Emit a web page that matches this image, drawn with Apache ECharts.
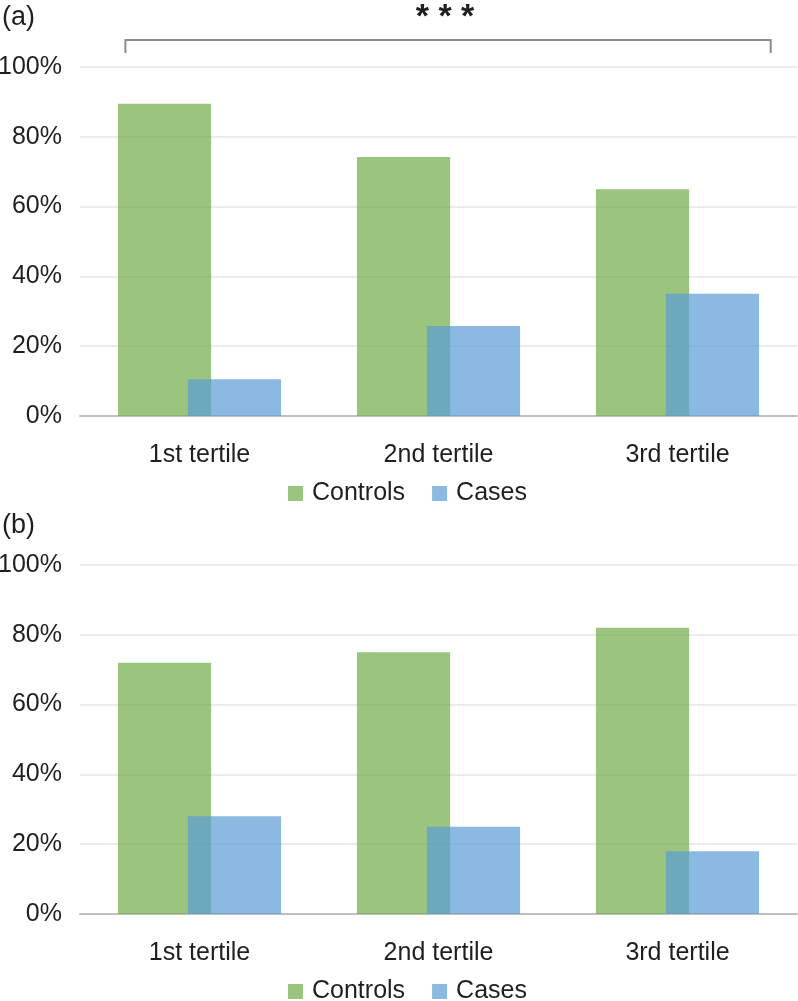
<!DOCTYPE html>
<html>
<head>
<meta charset="utf-8">
<script src="https://cdn.jsdelivr.net/npm/echarts@6/dist/echarts.min.js"></script>
<style>
html,body{margin:0;padding:0;background:#fff;}
#c{width:798px;height:1001px;}
</style>
</head>
<body>
<div id="c"></div>
<script>
const categories = ['1st tertile', '2nd tertile', '3rd tertile'];
const controlsA = [89.5, 74.2, 65.0];
const casesA = [10.5, 25.8, 35.0];
const controlsB = [72.0, 75.0, 82.0];
const casesB = [28.0, 25.0, 18.0];
const yTicks = [0, 20, 40, 60, 80, 100];
const panelLabels = ['(a)', '(b)'];
const significance = '* * *';

const FONT = 'Liberation Sans, Arial, sans-serif';
const TXT = '#1f1f1f';
const GREEN = 'rgba(112,173,71,0.7)';
const BLUE = 'rgba(91,155,213,0.7)';

function xAxis(gi) {
  return {
    type: 'category', gridIndex: gi, data: categories,
    axisLine: { lineStyle: { color: '#bfbfbf', width: 2 } },
    axisTick: { show: false },
    axisLabel: { color: TXT, fontSize: 25, fontFamily: FONT, margin: 27 }
  };
}
function yAxis(gi) {
  return {
    type: 'value', gridIndex: gi, min: yTicks[0], max: yTicks[yTicks.length - 1], interval: 20,
    axisLine: { show: false }, axisTick: { show: false },
    axisLabel: { color: TXT, fontSize: 25, fontFamily: FONT, margin: 18, formatter: v => v + '%' },
    splitLine: { lineStyle: { color: '#ececec', width: 2 } }
  };
}
function bar(name, data, gi, color) {
  return {
    type: 'bar', name, data, xAxisIndex: gi, yAxisIndex: gi,
    barWidth: '39%', barGap: '-25%',
    itemStyle: { color }
  };
}
function legend(top) {
  return {
    left: 288, top, padding: 0, itemWidth: 15, itemHeight: 15, itemGap: 27,
    icon: 'rect',
    data: [{ name: 'Controls', itemStyle: { color: GREEN } }, { name: 'Cases', itemStyle: { color: BLUE } }],
    textStyle: { color: TXT, fontSize: 25, fontFamily: FONT, padding: [0, 0, 0, 4] },
    selectedMode: false
  };
}

const chart = echarts.init(document.getElementById('c'), null, { renderer: 'canvas' });
chart.setOption({
  backgroundColor: '#fff',
  animation: false,
  grid: [
    { left: 80, right: 1, top: 67, height: 349, outerBoundsMode: 'none', containLabel: false },
    { left: 80, right: 1, top: 565, height: 349, outerBoundsMode: 'none', containLabel: false }
  ],
  xAxis: [xAxis(0), xAxis(1)],
  yAxis: [yAxis(0), yAxis(1)],
  legend: [legend(481), legend(979)],
  series: [
    bar('Controls', controlsA, 0, GREEN),
    bar('Cases', casesA, 0, BLUE),
    bar('Controls', controlsB, 1, GREEN),
    bar('Cases', casesB, 1, BLUE)
  ]
});

// Annotations: panel labels and significance bracket (positioned from axis scale)
const p0 = chart.convertToPixel({ gridIndex: 0 }, [0, 100]);
const p2 = chart.convertToPixel({ gridIndex: 0 }, [2, 100]);
const step = (p2[0] - p0[0]) / 2;
const bx1 = p0[0] - step * 0.31;
const bx2 = p2[0] + step * 0.39;
const by = p0[1] - 27;
chart.setOption({
  graphic: [
    { type: 'text', left: 2, top: 4, style: { text: panelLabels[0], font: '27px ' + FONT, fill: TXT } },
    { type: 'text', left: 2, top: 512, style: { text: panelLabels[1], font: '27px ' + FONT, fill: TXT } },
    { type: 'polyline', shape: { points: [[bx1, by + 13], [bx1, by], [bx2, by], [bx2, by + 13]] },
      style: { stroke: '#8c8c8c', lineWidth: 2, fill: null } },
    { type: 'text', x: (bx1 + bx2) / 2 - 3, y: 18, style: { text: significance, font: 'bold 34px ' + FONT, fill: TXT, align: 'center', verticalAlign: 'middle' } }
  ]
});
</script>
</body>
</html>
